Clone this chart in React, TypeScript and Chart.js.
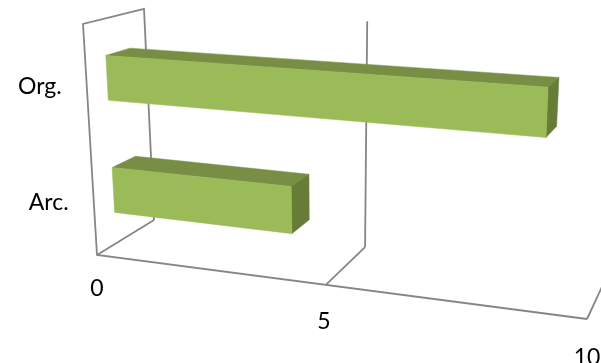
import React, { useEffect, useRef } from "react";
import { Chart, registerables } from "chart.js";

Chart.register(...registerables);

const categories = ["Org.", "Arc."];
const seriesValues = [9, 4];
const axisMax = 10;
const axisStep = 5;

type Pt = [number, number];
// Corners of the 3D plot box in pixels: F = front plane, B = back plane; first digit x, second digit height.
const F00: Pt = [97, 255], F10: Pt = [587, 319], F01: Pt = [83, 24], F11: Pt = [598, 57];
const B00: Pt = [154, 220], B10: Pt = [606, 278], B01: Pt = [144, 9], B11: Pt = [622, 35];
const PERSP = 0.876;
const D0 = 0.34, D1 = 0.74, VSHIFT = -0.013;

const warp = (u: number) => (PERSP * u) / (1 + (PERSP - 1) * u);
const lerp = (a: number, b: number, t: number) => a + (b - a) * t;
function project(u: number, v: number, d: number): Pt {
  const w = warp(u);
  const res: Pt = [0, 0];
  for (const i of [0, 1]) {
    const front = lerp(lerp(F00[i], F10[i], w), lerp(F01[i], F11[i], w), v);
    const back = lerp(lerp(B00[i], B10[i], w), lerp(B01[i], B11[i], w), v);
    res[i] = lerp(front, back, d);
  }
  return res;
}

function poly(ctx: CanvasRenderingContext2D, pts: Pt[], fill: string) {
  ctx.beginPath();
  pts.forEach((p, i) => (i ? ctx.lineTo(p[0], p[1]) : ctx.moveTo(p[0], p[1])));
  ctx.closePath();
  ctx.fillStyle = fill;
  ctx.fill();
  ctx.strokeStyle = fill;
  ctx.lineWidth = 0.5;
  ctx.stroke();
}
function line(ctx: CanvasRenderingContext2D, pts: Pt[]) {
  ctx.beginPath();
  pts.forEach((p, i) => (i ? ctx.lineTo(p[0], p[1]) : ctx.moveTo(p[0], p[1])));
  ctx.strokeStyle = "#868686";
  ctx.lineWidth = 1.8;
  ctx.lineJoin = "miter";
  ctx.stroke();
}

const FONT = '23px Lato, "Open Sans", sans-serif';

const box3d = {
  id: "box3d",
  beforeDatasetsDraw(chart: any) {
    const { ctx, scales } = chart;
    const x = scales.x;
    ctx.save();
    // Left wall outline and front floor edge
    line(ctx, [project(0, 0, 1), project(0, 1, 1), project(0, 1, 0), project(0, 0, 0), project(1, 0, 0)]);
    x.ticks.forEach((t: any) => {
      const u = (t.value - x.min) / (x.max - x.min);
      line(ctx, [project(u, 0, 0), project(u, 0, 1)]);
      if (t.value > x.min && t.value < x.max) line(ctx, [project(u, 0, 1), project(u, 1, 1)]);
    });
    ctx.restore();
  },
  beforeDatasetDraw(chart: any, args: any) {
    const { ctx, chartArea: a } = chart;
    const meta = chart.getDatasetMeta(args.index);
    const U = (px: number) => (px - a.left) / (a.right - a.left);
    const V = (py: number) => 1 - (py - a.top) / (a.bottom - a.top) + VSHIFT;
    ctx.save();
    [...meta.data].reverse().forEach((bar: any) => {
      const u0 = U(bar.base), u1 = U(bar.x);
      const v0 = V(bar.y + bar.height / 2), v1 = V(bar.y - bar.height / 2);
      // top face
      poly(ctx, [project(u0, v1, D0), project(u1, v1, D0), project(u1, v1, D1), project(u0, v1, D1)], "#788e44");
      // side face
      poly(ctx, [project(u1, v0, D0), project(u1, v1, D0), project(u1, v1, D1), project(u1, v0, D1)], "#677d37");
      // front face
      poly(ctx, [project(u0, v0, D0), project(u1, v0, D0), project(u1, v1, D0), project(u0, v1, D0)], "#9bbb59");
    });
    ctx.restore();
    return false;
  },
  afterDatasetsDraw(chart: any) {
    const { ctx, scales, chartArea: a } = chart;
    const x = scales.x, y = scales.y;
    ctx.save();
    ctx.font = FONT;
    ctx.fillStyle = "#000000";
    ctx.textBaseline = "middle";
    ctx.textAlign = "center";
    x.ticks.forEach((t: any) => {
      const u = (t.value - x.min) / (x.max - x.min);
      const p = project(u, 0, 0);
      ctx.fillText(String(t.value), p[0] + (u === 0.5 ? -2 : 0), p[1] + 34 + 5 * u);
    });
    ctx.textAlign = "right";
    y.getLabels().forEach((label: string, i: number) => {
      const v = 1 - (y.getPixelForValue(i) - a.top) / (a.bottom - a.top) + VSHIFT;
      const p = project(0, v, 0);
      ctx.fillText(label, p[0] - 25, p[1] + 2);
    });
    ctx.restore();
  },
};

export default function App() {
  const ref = useRef<HTMLCanvasElement>(null);
  useEffect(() => {
    const chart = new Chart(ref.current!, {
      type: "bar",
      data: {
        labels: categories,
        datasets: [
          {
            data: seriesValues,
            backgroundColor: "#9bbb59",
            barPercentage: 0.4,
            categoryPercentage: 1,
          },
        ],
      },
      options: {
        indexAxis: "y",
        animation: false,
        responsive: false,
        layout: { padding: 0 },
        plugins: { legend: { display: false }, tooltip: { enabled: false } },
        scales: {
          x: {
            min: 0,
            max: axisMax,
            ticks: { stepSize: axisStep, display: false },
            grid: { display: false },
            border: { display: false },
          },
          y: {
            ticks: { display: false },
            grid: { display: false },
            border: { display: false },
          },
        },
      },
      plugins: [box3d],
    } as any);
    return () => chart.destroy();
  }, []);
  return (
    <div style={{ position: "absolute", left: 0, top: 0, width: 601, height: 363, background: "#fff", overflow: "hidden" }}>
      <canvas ref={ref} width={601} height={363} style={{ display: "block" }} />
    </div>
  );
}
